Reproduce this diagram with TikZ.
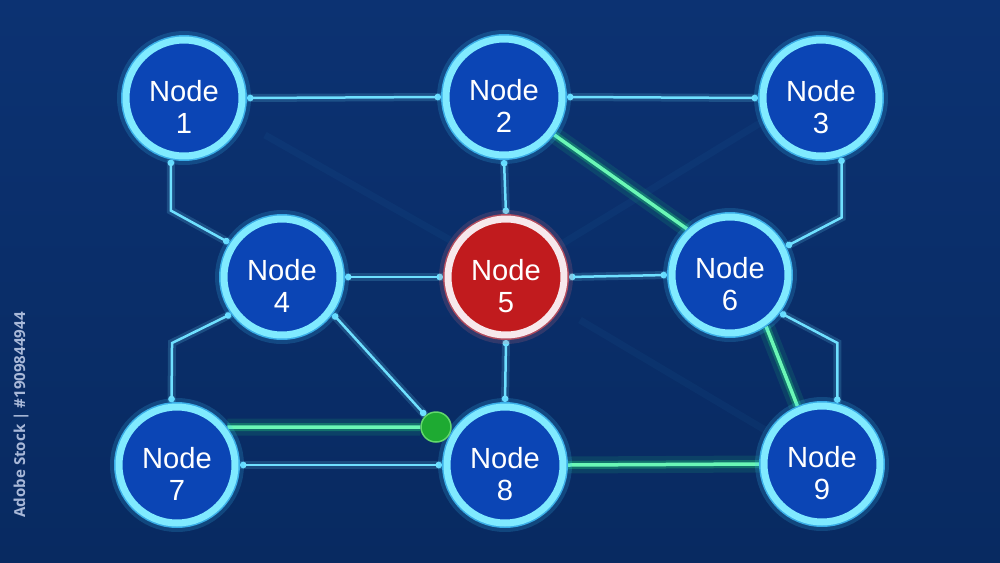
\documentclass[tikz,border=0pt]{standalone}
\usepackage{fontspec}
\setmainfont{Liberation Sans}
\newfontfamily\wmfont{Open Sans}
\usetikzlibrary{arrows.meta}
\definecolor{bgtop}{HTML}{0C3272}
\definecolor{bgbot}{HTML}{082A61}
\definecolor{nodeblue}{HTML}{0B45B5}
\definecolor{ringcyan}{HTML}{80EAFF}
\definecolor{ringedge}{HTML}{3AAEE8}
\definecolor{glowcyan}{HTML}{3CC8FF}
\definecolor{nodered}{HTML}{C11B1E}
\definecolor{ringwhite}{HTML}{F7E8EC}
\definecolor{rededge}{HTML}{B04B5E}
\definecolor{glowred}{HTML}{E07080}
\definecolor{linecyan}{HTML}{6FE0FF}
\definecolor{greencore}{HTML}{6AF7B6}
\definecolor{greenglow}{HTML}{22E07A}
\definecolor{dotgreen}{HTML}{1EAA32}
\definecolor{dotedge}{HTML}{62D86C}
\definecolor{wmcolor}{HTML}{A8B8D8}
\pgfdeclarelayer{back}
\pgfsetlayers{back,main}
\newcommand\ndtxt[1]{\raisebox{-0.26cm}[\height][\depth]{\begin{tabular}{@{}c@{}}Node\\#1\end{tabular}}}
\begin{document}
\begin{tikzpicture}[x=0.02cm,y=-0.02cm,
  ndbase/.style n args={4}{circle, minimum size=2.32cm, inner sep=0pt, outer sep=0.1cm,
    preaction={draw=#4, draw opacity=.18, line width=0.36cm},
    preaction={draw=#3, line width=0.2cm},
    fill=#1, draw=#2, line width=0.14cm, text=white,
    font=\fontsize{16.6}{18.2}\selectfont},
  nd/.style={ndbase={nodeblue}{ringcyan}{ringedge}{glowcyan}},
  ndred/.style={ndbase={nodered}{ringwhite}{rededge}{glowred}},
  gdot/.style={circle, minimum size=0.6cm, inner sep=0pt, fill=dotgreen, draw=dotedge, line width=0.03cm},
  cl/.style={draw=linecyan, line width=0.05cm, {Circle[length=0.13cm]}-{Circle[length=0.13cm]},
    preaction={draw=linecyan, draw opacity=.18, line width=0.16cm, arrows=-}},
  gl/.style={draw=greencore, line width=0.07cm,
    preaction={draw=greenglow, draw opacity=.12, line width=0.34cm},
    preaction={draw=greenglow, draw opacity=.30, line width=0.16cm}},
  streak/.style={draw=glowcyan, draw opacity=.045, line width=0.14cm},
  wm/.style={rotate=90, text=wmcolor, font=\wmfont\bfseries\fontsize{8.6}{10}\selectfont}
]
\useasboundingbox (0,0) rectangle (1000,562);
\begin{pgfonlayer}{back}
  \shade[top color=bgtop, bottom color=bgbot] (0,0) rectangle (1000,562);
  \draw[streak] (265,135) -- (450,240);
  \draw[streak] (560,245) -- (765,120);
  \draw[streak] (580,320) -- (765,430);
\end{pgfonlayer}

% nodes
\node[nd] (n1) at (184,98) {\ndtxt{1}};
\node[nd] (n2) at (504,97) {\ndtxt{2}};
\node[nd] (n3) at (821,98) {\ndtxt{3}};
\node[nd] (n4) at (282,277) {\ndtxt{4}};
\node[ndred] (n5) at (506,277) {\ndtxt{5}};
\node[nd] (n6) at (730,275) {\ndtxt{6}};
\node[nd] (n7) at (177,465) {\ndtxt{7}};
\node[nd] (n8) at (505,465) {\ndtxt{8}};
\node[nd] (n9) at (822,464) {\ndtxt{9}};
\node[gdot] (g) at (436,427) {};

\node[wm] (wmtext) at (21,415) {Adobe Stock | \#1909844944};

\begin{pgfonlayer}{back}
  % green highlighted path
  \draw[gl] (n2.323) -- (n6.133);
  \draw[gl] (n6.305) -- (n9.113);
  \draw[gl] (n8.east) -- (n9.west);
  \draw[gl] (n7.37) -- (g);
  % cyan connectors
  \draw[cl] (n1.east) -- (n2.west);
  \draw[cl] (n2.east) -- (n3.west);
  \draw[cl] (n1.258) -- ++(0,51) -- (n4.147);
  \draw[cl] (n2.south) -- (n5.north);
  \draw[cl] (n3.289) -- ++(0,60) -- (n6.27);
  \draw[cl] (n4.east) -- (n5.west);
  \draw[cl] (n6.west) -- (n5.east);
  \draw[cl] (n4.216) -- ++(-59,29) -- (n7.95);
  \draw[cl] (n4.324) -- (g);
  \draw[cl] (n5.south) -- (n8.north);
  \draw[cl] (n6.323) -- ++(57,30) -- (n9.76);
  \draw[cl] (n7.east) -- (n8.west);
\end{pgfonlayer}
\end{tikzpicture}
\end{document}
